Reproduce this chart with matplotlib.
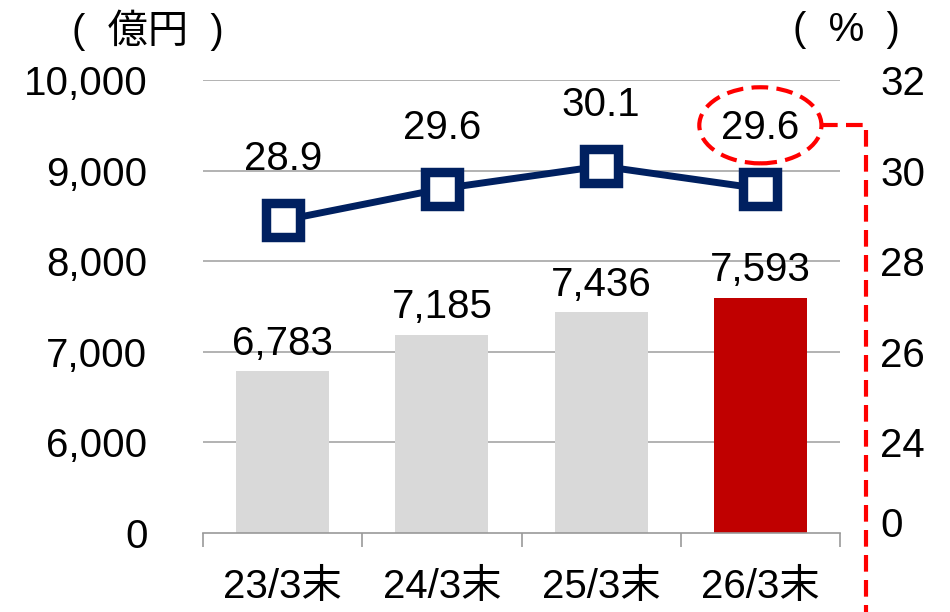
import matplotlib as mpl
mpl.use('Agg')
import matplotlib.pyplot as plt
from matplotlib.patches import Ellipse

plt.rcParams['font.family'] = ['Liberation Sans', 'Noto Sans CJK JP']

# data
categories = ['23/3末', '24/3末', '25/3末', '26/3末']
amounts = [6783, 7185, 7436, 7593]          # 億円
ratios = [28.9, 29.6, 30.1, 29.6]           # %
left_ticks = [0, 6000, 7000, 8000, 9000, 10000]
right_ticks = [0, 24, 26, 28, 30, 32]

GRAY = '#d9d9d9'
RED = '#c00000'
NAVY = '#002060'
FS = 29


# broken axis: 0..6000 squeezed into one step, then 1000 per step
def yl(v):
    return v / 6000 if v < 6000 else 1 + (v - 6000) / 1000


def yr(p):
    return p / 24 if p < 24 else 1 + (p - 24) / 2


fig = plt.figure(figsize=(9.5, 6.12), dpi=100)
ax = fig.add_axes([203 / 950, 1 - 533 / 612, 637 / 950, 453 / 612])
ax.set_xlim(-0.5, 3.5)
ax.set_ylim(0, 5)

x = list(range(len(categories)))
colors = [GRAY] * (len(categories) - 1) + [RED]
ax.bar(x, [yl(v) for v in amounts], width=0.585, color=colors, zorder=2)

for i, v in enumerate(amounts):
    ax.annotate(f'{v:,}', (i, yl(v)), xytext=(0, 20), textcoords='offset points',
                ha='center', va='center', fontsize=FS, zorder=5)

ly = [yr(p) for p in ratios]
ax.plot(x, ly, color=NAVY, lw=5, zorder=3, marker='s', markersize=25,
        markerfacecolor='white', markeredgecolor=NAVY, markeredgewidth=6.8)
for i, p in enumerate(ratios):
    ax.annotate(f'{p:.1f}', (i, ly[i]), xytext=(0, 44), textcoords='offset points',
                ha='center', va='center', fontsize=FS, zorder=5)

# highlight on last ratio
cy = ly[-1] + 0.70
ax.add_patch(Ellipse((3, cy), 0.767, 0.84, fill=False, ec='#ff0000', lw=3,
                     ls=(0, (4, 2)), clip_on=False, zorder=6))
ax.plot([3 + 0.3835, 3.663, 3.663], [cy, cy, -1.2], color='#ff0000', lw=3,
        ls=(0, (4, 2)), clip_on=False, zorder=6)

# grid & spines
for v in left_ticks[1:]:
    ax.axhline(yl(v), color='#a6a6a6', lw=1.2, zorder=1)
for s in ['top', 'right', 'left']:
    ax.spines[s].set_visible(False)
ax.spines['bottom'].set_color('#999999')
ax.spines['bottom'].set_linewidth(1.2)

ax.set_xticks(x)
ax.set_xticklabels(categories, fontsize=FS)
ax.set_xticks([-0.5, 0.5, 1.5, 2.5, 3.5], minor=True)
ax.tick_params(axis='x', which='major', length=0, pad=25)
ax.tick_params(axis='x', which='minor', length=10, width=1.2, color='#999999')

ax.set_yticks([yl(v) for v in left_ticks])
ax.set_yticklabels([f'{v:,}' for v in left_ticks], fontsize=FS)
ax.tick_params(axis='y', length=0, pad=40)

ax2 = ax.twinx()
ax2.set_ylim(0, 5)
rpos = [yr(p) for p in right_ticks]
rpos[0] = 0.12
ax2.set_yticks(rpos)
ax2.set_yticklabels([str(p) for p in right_ticks], fontsize=FS)
ax2.tick_params(axis='y', length=0, pad=29)
for s in ax2.spines.values():
    s.set_visible(False)

fig.text(148 / 950, 1 - 30 / 612, '(  億円  )', ha='center', va='center', fontsize=FS)
fig.text(846 / 950, 1 - 30 / 612, '(  %  )', ha='center', va='center', fontsize=FS)

plt.savefig('out.png', dpi=100)
